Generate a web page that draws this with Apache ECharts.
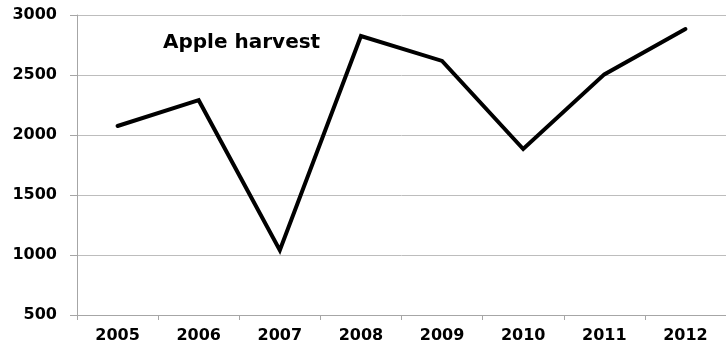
<!DOCTYPE html>
<html>
<head>
<meta charset="utf-8">
<script src="https://cdn.jsdelivr.net/npm/echarts@6/dist/echarts.min.js"></script>
<style>
  html, body { margin: 0; padding: 0; background: #fff; }
  #chart { width: 726px; height: 349px; }
</style>
</head>
<body>
<div id="chart"></div>
<script>
  // data
  var years = ['2005', '2006', '2007', '2008', '2009', '2010', '2011', '2012'];
  var harvest = [2075, 2290, 1040, 2825, 2617, 1883, 2505, 2883];
  var yTicks = [500, 1000, 1500, 2000, 2500, 3000];

  var chart = echarts.init(document.getElementById('chart'));
  var labelFont = { color: '#000', fontFamily: 'DejaVu Sans', fontWeight: 'bold', fontSize: 16 };

  var option = {
    animation: false,
    title: {
      text: 'Apple harvest',
      left: 163,
      top: 33,
      padding: 0,
      textStyle: { color: '#000', fontFamily: 'DejaVu Sans', fontWeight: 'bold', fontSize: 20 }
    },
    // plot runs past the right edge, like the cropped original
    grid: { left: 77, top: 15, width: 660, height: 300, containLabel: false },
    xAxis: {
      type: 'category',
      data: years,
      boundaryGap: true,
      axisLine: { lineStyle: { color: '#a6a6a6', width: 1 } },
      axisTick: { show: true, length: 5, lineStyle: { color: '#a6a6a6' } },
      axisLabel: Object.assign({ margin: 13, interval: 0 }, labelFont),
      splitLine: { show: false }
    },
    yAxis: {
      type: 'value',
      min: yTicks[0],
      max: yTicks[yTicks.length - 1],
      interval: 500,
      axisLine: { show: true, lineStyle: { color: '#a6a6a6', width: 1 } },
      axisTick: { show: true, length: 7, lineStyle: { color: '#a6a6a6' } },
      axisLabel: Object.assign({ margin: 20, formatter: function (v) { return String(v); } }, labelFont),
      splitLine: { show: true, lineStyle: { color: '#bdbdbd', width: 1 } }
    },
    series: [
      {
        name: 'Apple harvest',
        type: 'line',
        data: harvest,
        symbol: 'none',
        lineStyle: { color: '#000', width: 4, cap: 'round', join: 'miter' }
      }
    ]
  };
  chart.setOption(option);
</script>
</body>
</html>
